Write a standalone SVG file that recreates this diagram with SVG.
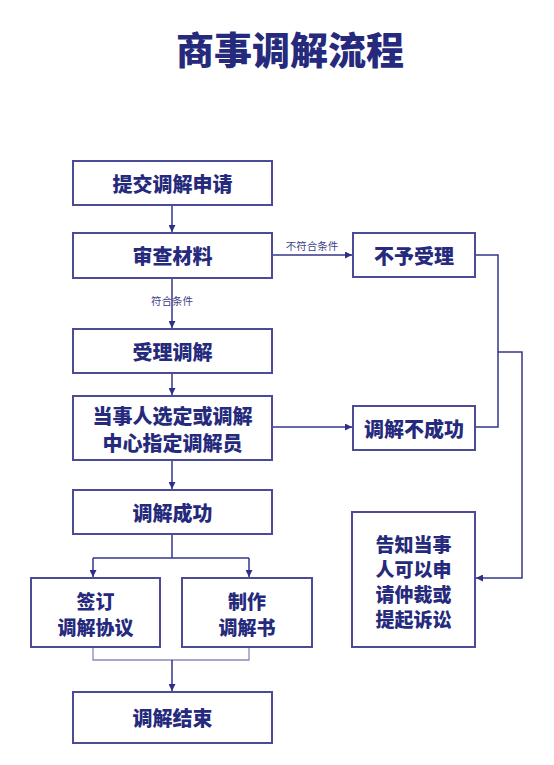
<svg xmlns="http://www.w3.org/2000/svg" width="554" height="765" viewBox="0 0 554 765">
<style>
.box{fill:#fff;stroke:#4b4b98;stroke-width:2}
.t{font-family:"Noto Sans CJK SC","Noto Sans",sans-serif;font-weight:900;font-size:20px;fill:#262a7c;text-anchor:middle;dominant-baseline:central}
.t2{font-size:19px}
.title{font-family:"Noto Sans CJK SC",serif;font-weight:900;font-size:38px;fill:#262a7c;text-anchor:middle;dominant-baseline:central}
.lbl{font-family:"Noto Sans CJK SC","Noto Sans",sans-serif;font-size:10.5px;fill:#3d3f85;text-anchor:middle;dominant-baseline:central}
.c{fill:none;stroke:#35368a;stroke-width:1.5}
.m{fill:none;stroke:#8a8ab8;stroke-width:1.3}
</style>
<defs>
<marker id="ah" viewBox="0 0 10 10" refX="10" refY="5" markerWidth="7" markerHeight="7" markerUnits="userSpaceOnUse" orient="auto">
<path d="M0,0 L10,5 L0,10 z" fill="#2e2f86"/>
</marker>
</defs>
<rect width="554" height="765" fill="#fff"/>
<text class="title" x="290" y="47">商事调解流程</text>
<g id="connectors">
<line class="c" x1="172" y1="205" x2="172" y2="232" marker-end="url(#ah)"/>
<line class="c" x1="272" y1="255" x2="352" y2="255" marker-end="url(#ah)"/>
<text class="lbl" x="312" y="245">不符合条件</text>
<line class="c" x1="172" y1="278" x2="172" y2="328" marker-end="url(#ah)"/>
<text class="lbl" x="172" y="300">符合条件</text>
<line class="c" x1="172" y1="373" x2="172" y2="395" marker-end="url(#ah)"/>
<line class="c" x1="272" y1="427" x2="352" y2="427" marker-end="url(#ah)"/>
<polyline class="c" points="475,255 498,255 498,427 475,427"/>
<polyline class="c" points="498,352 522,352 522,578 476,578" marker-end="url(#ah)"/>
<line class="c" x1="172" y1="460" x2="172" y2="489" marker-end="url(#ah)"/>
<polyline class="c" points="172,534 172,558"/>
<line class="c" x1="93" y1="558" x2="249" y2="558"/>
<line class="c" x1="93" y1="558" x2="93" y2="577" marker-end="url(#ah)"/>
<line class="c" x1="249" y1="558" x2="249" y2="577" marker-end="url(#ah)"/>
<polyline class="m" points="93,647 93,660 249,660 249,647"/>
<line class="c" x1="172" y1="660" x2="172" y2="691" marker-end="url(#ah)"/>
</g>
<g id="n1"><rect class="box" x="73" y="161" width="199" height="44"/><text class="t" x="172.5" y="183">提交调解申请</text></g>
<g id="n2"><rect class="box" x="73" y="233" width="199" height="45"/><text class="t" x="172.5" y="255.5">审查材料</text></g>
<g id="n3"><rect class="box" x="353" y="233" width="122" height="44"/><text class="t" x="414" y="255">不予受理</text></g>
<g id="n4"><rect class="box" x="73" y="329" width="199" height="44"/><text class="t" x="172.5" y="351">受理调解</text></g>
<g id="n5"><rect class="box" x="73" y="396" width="199" height="64"/><text class="t" x="172.5" y="415.5">当事人选定或调解</text><text class="t" x="172.5" y="442">中心指定调解员</text></g>
<g id="n6"><rect class="box" x="353" y="406" width="122" height="44"/><text class="t" x="414" y="428">调解不成功</text></g>
<g id="n7"><rect class="box" x="73" y="490" width="199" height="44"/><text class="t" x="172.5" y="512">调解成功</text></g>
<g id="n8"><rect class="box" x="352" y="512" width="123" height="135"/><text class="t t2" x="413.5" y="543">告知当事</text><text class="t t2" x="413.5" y="568">人可以申</text><text class="t t2" x="413.5" y="593">请仲裁或</text><text class="t t2" x="413.5" y="618">提起诉讼</text></g>
<g id="n9"><rect class="box" x="31" y="578" width="129" height="69"/><text class="t t2" x="95.5" y="600">签订</text><text class="t t2" x="95.5" y="626">调解协议</text></g>
<g id="n10"><rect class="box" x="182" y="578" width="130" height="69"/><text class="t t2" x="247" y="600">制作</text><text class="t t2" x="247" y="626">调解书</text></g>
<g id="n11"><rect class="box" x="73" y="692" width="199" height="51"/><text class="t" x="172.5" y="717.5">调解结束</text></g>
</svg>
